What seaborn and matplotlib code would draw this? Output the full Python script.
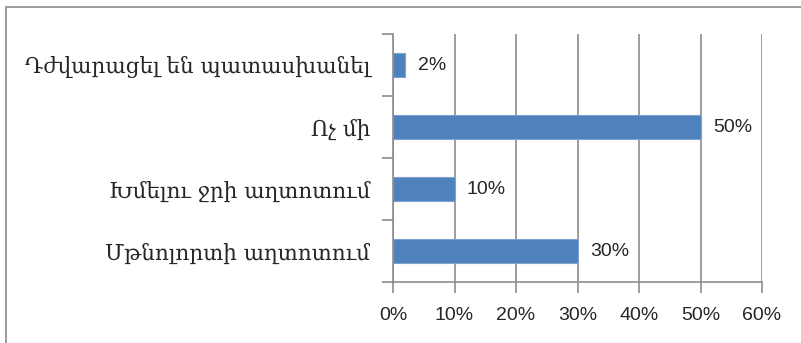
import matplotlib
matplotlib.use("Agg")
import matplotlib.pyplot as plt
import matplotlib.patches as mpatches
import seaborn as sns
import pandas as pd

categories = [
    "Դժվարացել են պատասխանել",
    "Ոչ մի",
    "Խմելու ջրի աղտոտում",
    "Մթնոլորտի աղտոտում",
]
values = [2, 50, 10, 30]
x_ticks = [0, 10, 20, 30, 40, 50, 60]

df = pd.DataFrame({"category": categories, "value": values})

sns.set_style("white")
plt.rcParams["font.family"] = ["DejaVu Sans"]

fig = plt.figure(figsize=(8.01, 3.43), dpi=100)
ax = fig.add_axes([393 / 801, 1 - 282 / 343, 369 / 801, 248 / 343])

sns.barplot(data=df, x="value", y="category", orient="h", ax=ax,
            color="#4F81BD", edgecolor="#7FA3CF", linewidth=0.8,
            width=0.4, saturation=1)

ax.set_xlim(0, 60)
ax.set_ylim(3.5, -0.5)
ax.set_xticks(x_ticks)
ax.set_xticklabels([f"{t}%" for t in x_ticks], fontfamily="Liberation Sans", fontsize=14)
ax.xaxis.grid(True, color="#8C8C8C", linewidth=1.2)
ax.set_axisbelow(True)

ax.set_yticks(range(len(categories)))
ax.set_yticklabels(categories, fontfamily="DejaVu Serif", fontsize=15.5)
ax.set_yticks([-0.5, 0.5, 1.5, 2.5, 3.5], minor=True)
ax.tick_params(axis="y", which="both", left=True)
ax.tick_params(axis="y", which="major", length=0, pad=16.5)
ax.tick_params(axis="y", which="minor", length=8, color="#8C8C8C", width=1.2)
ax.tick_params(axis="x", bottom=True, length=8, color="#8C8C8C", width=1.2, pad=10)
ax.set_xlabel("")
ax.set_ylabel("")

for s in ["top", "right"]:
    ax.spines[s].set_visible(False)
for s in ["left", "bottom"]:
    ax.spines[s].set_color("#8C8C8C")
    ax.spines[s].set_linewidth(1.2)

for i, v in enumerate(values):
    ax.text(v + 2.0, i, f"{v}%", va="center", ha="left",
            fontfamily="Liberation Sans", fontsize=14)

# outer chart frame
frame = mpatches.Rectangle((5.5 / 801, -0.1), 1.2, 1 - 7 / 343 + 0.1,
                           transform=fig.transFigure, fill=False,
                           edgecolor="#8C8C8C", linewidth=1.2)
fig.patches.append(frame)

fig.savefig("out.png", dpi=100)
